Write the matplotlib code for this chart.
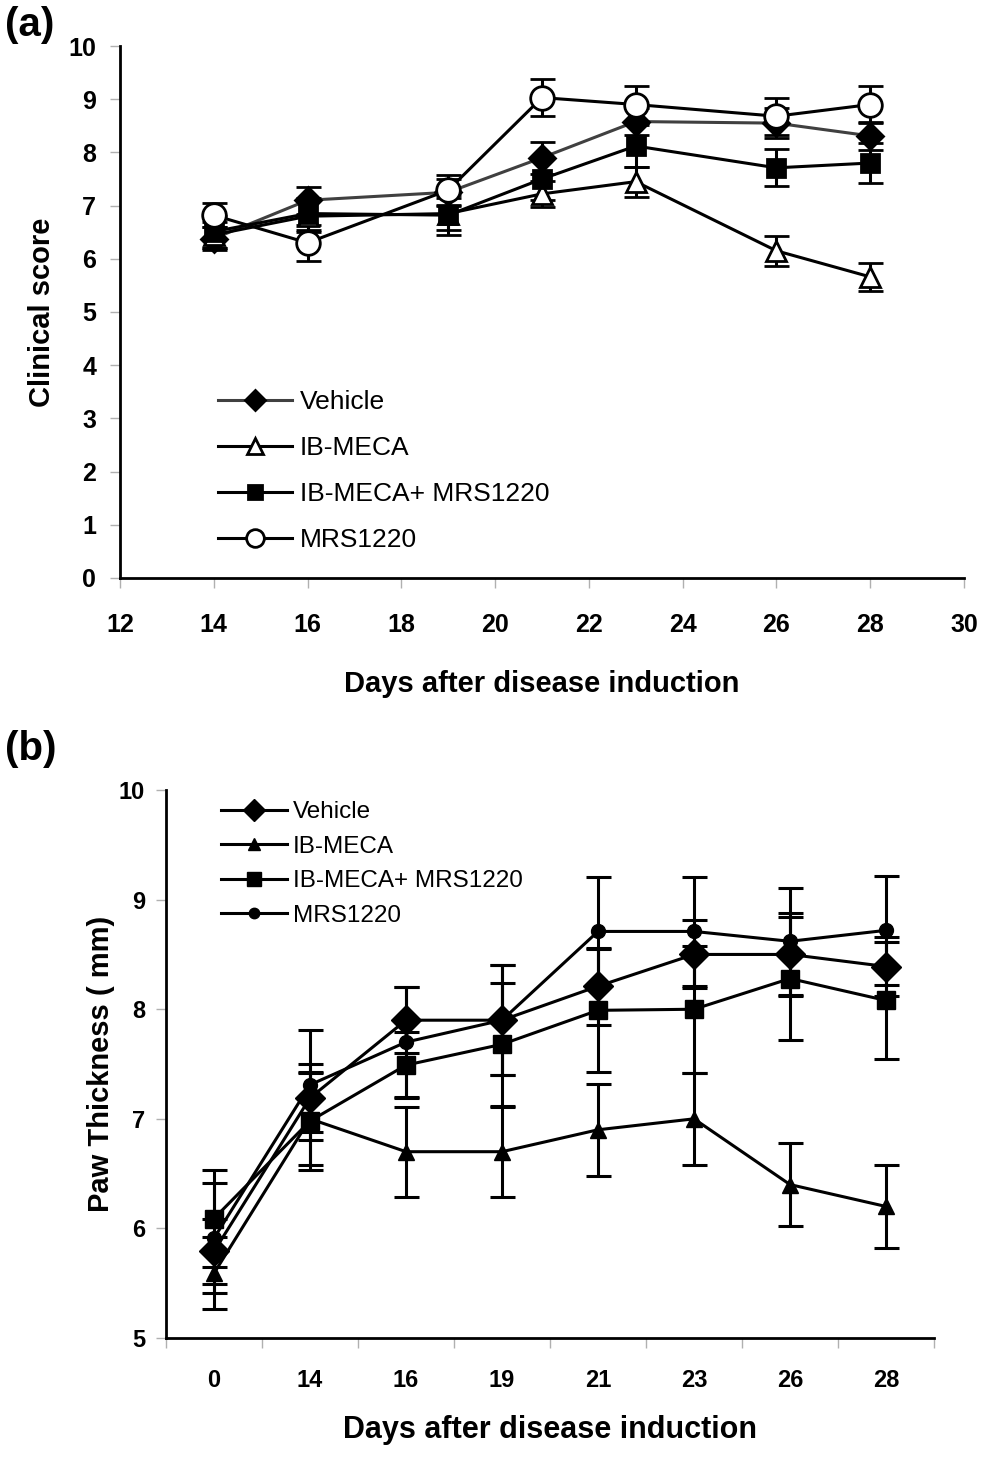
import matplotlib
matplotlib.use("Agg")
import matplotlib.pyplot as plt
import numpy as np

plt.rcParams['font.family'] = ['Liberation Sans', 'DejaVu Sans']

# ---------------- Panel (a) data ----------------
days_a = [14, 16, 19, 21, 23, 26, 28]
a_vehicle = [6.38, 7.10, 7.25, 7.90, 8.58, 8.55, 8.31]
a_vehicle_err = [0.22, 0.25, 0.25, 0.30, 0.25, 0.28, 0.27]
a_ibmeca = [6.45, 6.80, 6.85, 7.22, 7.45, 6.15, 5.66]
a_ibmeca_err = [0.25, 0.30, 0.30, 0.25, 0.28, 0.28, 0.26]
a_combo = [6.51, 6.85, 6.82, 7.50, 8.12, 7.71, 7.80]
a_combo_err = [0.30, 0.30, 0.38, 0.40, 0.40, 0.35, 0.38]
a_mrs = [6.82, 6.30, 7.29, 9.03, 8.90, 8.68, 8.90]
a_mrs_err = [0.23, 0.34, 0.28, 0.35, 0.35, 0.35, 0.35]

# ---------------- Panel (b) data ----------------
days_b = ['0', '14', '16', '19', '21', '23', '26', '28']
b_vehicle = [5.79, 7.19, 7.90, 7.90, 8.21, 8.50, 8.50, 8.39]
b_vehicle_err = [0.30, 0.31, 0.30, 0.50, 0.35, 0.31, 0.38, 0.27]
b_ibmeca = [5.59, 7.00, 6.70, 6.70, 6.90, 7.00, 6.40, 6.20]
b_ibmeca_err = [0.33, 0.42, 0.41, 0.41, 0.42, 0.42, 0.38, 0.38]
b_combo = [6.09, 6.98, 7.49, 7.68, 7.99, 8.00, 8.28, 8.08]
b_combo_err = [0.44, 0.45, 0.30, 0.56, 0.56, 0.58, 0.56, 0.53]
b_mrs = [5.91, 7.31, 7.70, 7.90, 8.71, 8.71, 8.62, 8.72]
b_mrs_err = [0.50, 0.50, 0.50, 0.50, 0.50, 0.50, 0.49, 0.50]

labels = ['Vehicle', 'IB-MECA', 'IB-MECA+ MRS1220', 'MRS1220']

fig = plt.figure(figsize=(10.04, 14.65), dpi=100)

# ---------------- Panel (a) ----------------
axa = fig.add_axes([0.1195, 0.6055, 0.8406, 0.3631])
series_a = [
    (a_vehicle, a_vehicle_err, dict(marker='D', ms=13, mfc='black', mec='black', color='#404040')),
    (a_ibmeca, a_ibmeca_err, dict(marker='^', ms=15, mfc='white', mec='black', color='black')),
    (a_combo, a_combo_err, dict(marker='s', ms=13, mfc='black', mec='black', color='black')),
    (a_mrs, a_mrs_err, dict(marker='o', ms=17, mfc='white', mec='black', color='black')),
]
handles_a = []
for (vals, err, st), lab in zip(series_a, labels):
    eb = axa.errorbar(days_a, vals, yerr=err, lw=2.2, elinewidth=2.2, capsize=9, capthick=2.2,
                      mew=2, ecolor='black', label=lab, **st)
    handles_a.append(eb[0])
axa.set_xlim(12, 30)
axa.set_ylim(0, 10)
axa.set_xticks(np.arange(12, 31, 2))
axa.set_yticks(np.arange(0, 11, 1))
for s in ['top', 'right']:
    axa.spines[s].set_visible(False)
for s in ['left', 'bottom']:
    axa.spines[s].set_linewidth(2)
axa.tick_params(axis='both', direction='out', length=7, width=1, color='#b0b0b0',
                labelsize=18, pad=18)
for t in axa.get_xticklabels() + axa.get_yticklabels():
    t.set_fontweight('bold')
axa.tick_params(axis='y', pad=10)
axa.set_xlabel('Days after disease induction', fontsize=21, fontweight='bold', labelpad=24)
axa.set_ylabel('Clinical score', fontsize=21, fontweight='bold', labelpad=9)
axa.legend(handles=handles_a, labels=labels, loc='lower left', bbox_to_anchor=(0.116, 0.049),
           frameon=False, fontsize=19, handlelength=2.8, handletextpad=0.3, labelspacing=0.83,
           borderpad=0, borderaxespad=0, markerscale=0.75)
fig.text(0.005, 1 - 6 / 1465, '(a)', fontsize=29, fontweight='bold', va='top')

# ---------------- Panel (b) ----------------
axb = fig.add_axes([0.1653, 0.0867, 0.765, 0.374])
xb = np.arange(len(days_b))
series_b = [
    (b_vehicle, b_vehicle_err, dict(marker='D', ms=15)),
    (b_ibmeca, b_ibmeca_err, dict(marker='^', ms=12)),
    (b_combo, b_combo_err, dict(marker='s', ms=13)),
    (b_mrs, b_mrs_err, dict(marker='o', ms=10)),
]
handles_b = []
for (vals, err, st), lab in zip(series_b, labels):
    eb = axb.errorbar(xb, vals, yerr=err, lw=2.2, elinewidth=2.2, capsize=9, capthick=2.2,
                      color='black', mfc='black', mec='black', ecolor='black', label=lab, **st)
    handles_b.append(eb[0])
axb.set_xlim(-0.5, len(days_b) - 0.5)
axb.set_ylim(5, 10)
axb.set_xticks(xb)
axb.set_xticklabels(days_b)
axb.set_xticks(np.arange(-0.5, len(days_b), 1), minor=True)
axb.set_yticks(np.arange(5, 11, 1))
for s in ['top', 'right']:
    axb.spines[s].set_visible(False)
for s in ['left', 'bottom']:
    axb.spines[s].set_linewidth(2)
axb.tick_params(axis='x', which='major', length=0, labelsize=17, pad=22)
axb.tick_params(axis='x', which='minor', direction='out', length=7, width=1, color='#b0b0b0')
axb.tick_params(axis='y', direction='out', length=7, width=1, color='#b0b0b0', labelsize=17, pad=8)
for t in axb.get_xticklabels() + axb.get_yticklabels():
    t.set_fontweight('bold')
axb.set_xlabel('Days after disease induction', fontsize=22, fontweight='bold', labelpad=17)
axb.set_ylabel('Paw Thickness ( mm)', fontsize=21, fontweight='bold', labelpad=3)
axb.legend(handles=handles_b, labels=labels, loc='upper left', bbox_to_anchor=(0.072, 0.98),
           frameon=False, fontsize=17.5, handlelength=2.7, handletextpad=0.25, labelspacing=0.52,
           borderpad=0, borderaxespad=0, markerscale=0.75)
fig.text(0.005, 1 - 730 / 1465, '(b)', fontsize=29, fontweight='bold', va='top')

fig.savefig('out.png', dpi=100, facecolor='white')
